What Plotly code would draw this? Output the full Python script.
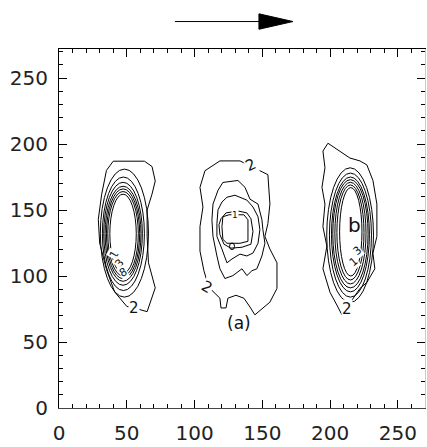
import plotly.graph_objects as go

# ---------------------------------------------------------------------------
# Contour outlines (data units), three density lobes
# ---------------------------------------------------------------------------

# left lobe: outer (level 2) contour
left_outer_x = [40, 63, 68.6, 71, 68.6, 65, 65, 66, 71, 67, 65, 58, 50, 41, 35, 30, 29, 31.5, 35, 40]
left_outer_y = [187, 187, 183, 172, 162, 150, 130, 110, 91, 80, 73, 75, 77, 88, 105, 125, 143, 162, 180, 187]

# left lobe: tightly packed inner contours (bounding boxes of the ovals)
left_ring_x0 = [30.5, 32, 33, 34, 35, 36, 37.5]
left_ring_x1 = [66, 63, 61.5, 60.5, 59.5, 58.5, 57]
left_ring_y0 = [84, 89, 93, 96, 98, 100, 102]
left_ring_y1 = [181, 175, 171, 168, 166, 164, 162]

# middle lobe: outer contour and nested inner contours
mid_outer_x = [107.7, 118.7, 133.5, 146.8, 154.1, 155.6, 154.1, 151.9, 155.6, 160.8, 160.8, 155.6, 149.7,
               144.5, 140.9, 136.4, 130.5, 124.6, 123.2, 119.5, 118.7, 114.3, 110.6, 106.9, 104.0, 104.0,
               106.2, 104.0, 107.7]
mid_outer_y = [179.8, 187.2, 187.2, 180.5, 176.8, 154.5, 139.7, 130.0, 120.4, 110.0, 90.6, 80.2, 75.0,
               70.6, 76.5, 83.2, 85.4, 83.2, 75.8, 75.8, 83.2, 87.7, 91.4, 104.0, 118.9, 137.4,
               152.3, 167.2, 179.8]

mid_c2_x = [120.9, 132.0, 137.2, 140.9, 146.8, 149.7, 150.4, 151.9, 149.7, 146.0, 142.3, 138.6, 135.0,
            128.3, 122.4, 118.7, 116.5, 113.6, 112.8, 113.6, 117.3, 120.9]
mid_c2_y = [170.9, 172.4, 167.2, 158.2, 154.5, 142.6, 135.2, 124.8, 115.2, 105.5, 104.0, 100.3, 105.5,
            100.3, 98.1, 105.5, 115.2, 130.0, 142.6, 154.5, 164.9, 170.9]

mid_c3_x = [123.9, 129.8, 138.6, 143.1, 146.8, 148.2, 146.8, 143.1, 138.6, 133.5, 127.6, 123.9, 120.2,
            116.5, 116.5, 117.3, 120.2, 123.9]
mid_c3_y = [159.7, 161.2, 157.5, 152.3, 144.9, 135.2, 124.8, 117.4, 115.2, 116.6, 112.9, 110.0, 120.4,
            130.0, 139.7, 150.1, 156.0, 159.7]

mid_c4_x = [119.5, 123.2, 132.0, 138.6, 141.6, 143.1, 141.6, 135.0, 126.8, 121.7, 118.7, 118.0, 119.5]
mid_c4_y = [143.4, 147.8, 149.3, 147.8, 143.4, 133.7, 124.1, 121.8, 121.1, 124.1, 131.5, 138.9, 143.4]

mid_c5_x = [120.9, 125.4, 136.4, 139.4, 139.4, 133.5, 123.9, 120.9, 120.2, 120.9]
mid_c5_y = [144.9, 146.4, 146.4, 142.6, 126.3, 124.8, 124.8, 127.8, 137.4, 144.9]

# small closed contour at the bottom of the middle core
mid_dot_box = [125.8, 129.5, 120.0, 125.0]

# right lobe: outer contour
right_outer_x = [198.4, 207.2, 214.6, 222.0, 227.1, 231.6, 234.5, 234.5, 231.6, 233.0, 227.1, 222.0, 216.1,
                 212.4, 208.7, 205.0, 199.9, 194.7, 197.6, 194.7, 196.2, 194.0, 196.2, 194.7, 198.4]
right_outer_y = [200.6, 194.7, 189.4, 187.2, 184.2, 172.4, 154.5, 130.0, 117.4, 105.5, 95.1, 90.6, 81.7,
                 74.3, 70.6, 78.0, 87.7, 105.5, 122.6, 137.4, 154.5, 167.2, 182.0, 194.7, 200.6]

# right lobe: packed inner contours
right_ring_x0 = [197.5, 199.5, 201, 202, 203.5, 205, 207]
right_ring_x1 = [232, 230.5, 229, 228, 226.5, 225, 223.5]
right_ring_y0 = [80, 84, 88, 91, 94, 97, 100]
right_ring_y1 = [182, 178, 175, 173, 171, 169, 167]

# contour level labels: text, x, y, angle, size
level_text = ["2", "2", "2", "2", "1", "3", "8", "1", "3", "1"]
level_x = [55.5, 141.5, 109.0, 212.4, 41.0, 44.5, 47.5, 130.0, 220.5, 217.5]
level_y = [75.5, 184.0, 91.5, 75.0, 116.0, 109.5, 102.5, 146.5, 119.0, 111.0]
level_angle = [0, -25, 30, 0, -60, -50, -30, 0, -40, -40]
level_size = [15, 15, 15, 15, 11, 11, 11, 9, 11, 11]

# panel letters
panel_text = ["(a)", "b"]
panel_x = [133.0, 218.0]
panel_y = [64.5, 139.0]
panel_size = [17, 20]

# axis setup
x_range = [0, 270]
y_range = [0, 272]
major_step = 50
minor_step = 10

# direction arrow above the frame (x in data units, y in paper units)
arrow_tail_x = 85.5
arrow_head_base_x = 147.5
arrow_tip_x = 172.6
arrow_y = 1.0765
arrow_half_height = 0.0215

# ---------------------------------------------------------------------------
fig = go.Figure()

line_style = dict(color="black", width=1)

for xs, ys in [(left_outer_x, left_outer_y), (mid_outer_x, mid_outer_y), (mid_c2_x, mid_c2_y),
               (mid_c3_x, mid_c3_y), (mid_c4_x, mid_c4_y), (mid_c5_x, mid_c5_y),
               (right_outer_x, right_outer_y)]:
    fig.add_trace(go.Scatter(x=xs, y=ys, mode="lines", line=line_style,
                             hoverinfo="skip", showlegend=False))

for x0, x1, y0, y1 in zip(left_ring_x0, left_ring_x1, left_ring_y0, left_ring_y1):
    fig.add_shape(type="circle", xref="x", yref="y", x0=x0, x1=x1, y0=y0, y1=y1, line=line_style)
for x0, x1, y0, y1 in zip(right_ring_x0, right_ring_x1, right_ring_y0, right_ring_y1):
    fig.add_shape(type="circle", xref="x", yref="y", x0=x0, x1=x1, y0=y0, y1=y1, line=line_style)
fig.add_shape(type="circle", xref="x", yref="y", x0=mid_dot_box[0], x1=mid_dot_box[1],
              y0=mid_dot_box[2], y1=mid_dot_box[3], line=line_style)

# invisible traces so the mirrored top/right axes are drawn
fig.add_trace(go.Scatter(x=[None], y=[None], xaxis="x2", yaxis="y2", showlegend=False, hoverinfo="skip"))

label_font = "DejaVu Sans"
for t, x, y, a, s in zip(level_text, level_x, level_y, level_angle, level_size):
    fig.add_annotation(x=x, y=y, text=t, showarrow=False, textangle=a,
                       font=dict(family=label_font, size=s, color="#111"),
                       bgcolor="white", borderpad=0)
for t, x, y, s in zip(panel_text, panel_x, panel_y, panel_size):
    fig.add_annotation(x=x, y=y, text=t, showarrow=False,
                       font=dict(family=label_font, size=s, color="#111"))

# arrow
fig.add_shape(type="line", xref="x", yref="paper", x0=arrow_tail_x, x1=arrow_head_base_x,
              y0=arrow_y, y1=arrow_y, line=dict(color="black", width=1))
fig.add_shape(type="path", xref="x", yref="paper",
              path=f"M {arrow_head_base_x},{arrow_y + arrow_half_height} L {arrow_tip_x},{arrow_y} "
                   f"L {arrow_head_base_x},{arrow_y - arrow_half_height} Z",
              fillcolor="black", line=dict(color="black", width=1))

tick_font = dict(family=label_font, size=20, color="#222")
common = dict(range=None, showgrid=False, zeroline=False, ticks="inside", ticklen=8, tickwidth=1,
              tickcolor="black", dtick=major_step, tick0=0,
              minor=dict(ticks="inside", ticklen=4, tickwidth=1, tickcolor="black", dtick=minor_step))

fig.update_layout(
    width=427, height=447, autosize=False,
    margin=dict(l=59, r=2, t=49, b=32),
    paper_bgcolor="white", plot_bgcolor="white",
    xaxis=dict(**{**common, "range": x_range}, showline=True, linecolor="#444", linewidth=1,
               tickfont=tick_font, ticklabelstandoff=7),
    yaxis=dict(**{**common, "range": y_range}, showline=True, linecolor="black", linewidth=1,
               tickfont=tick_font, ticklabelstandoff=6),
    xaxis2=dict(**{**common, "range": x_range}, overlaying="x", side="top", showline=True,
                linecolor="black", linewidth=1, showticklabels=False),
    yaxis2=dict(**{**common, "range": y_range}, overlaying="y", side="right", showline=True,
                linecolor="#cccccc", linewidth=1, showticklabels=False),
    showlegend=False,
)

fig.write_html("out.html")
